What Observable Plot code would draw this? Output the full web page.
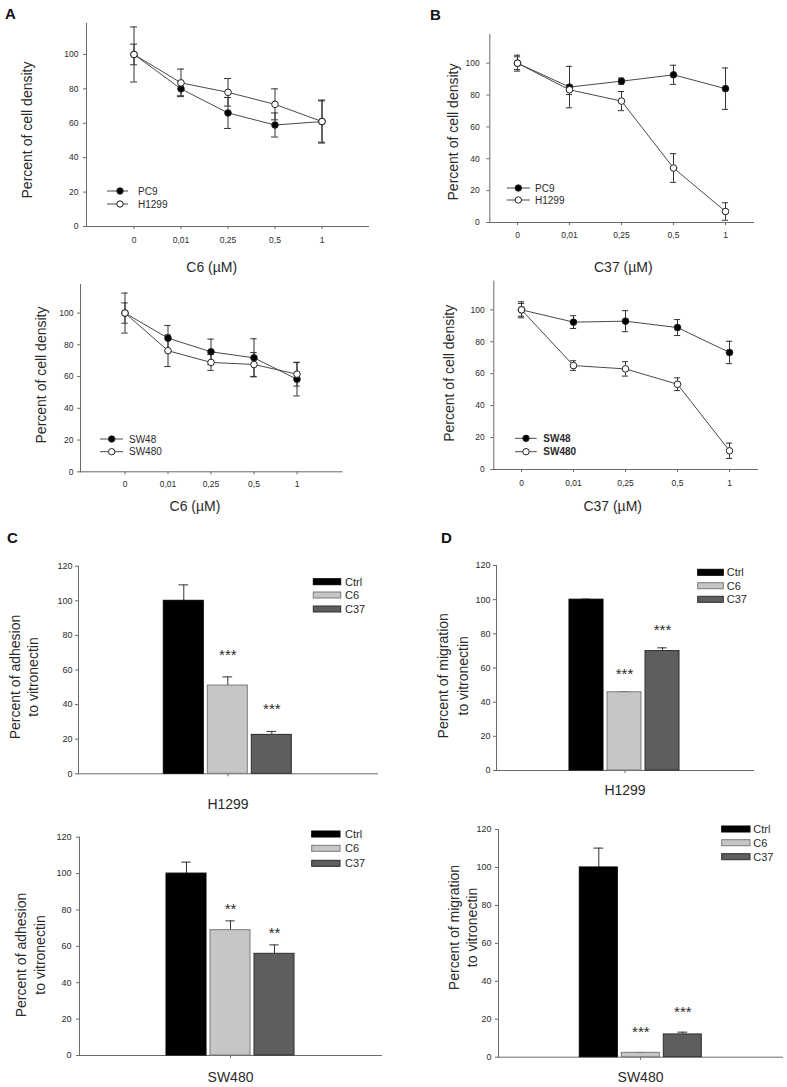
<!DOCTYPE html>
<html><head><meta charset="utf-8">
<script src="https://cdn.jsdelivr.net/npm/d3@7"></script>
<script src="https://cdn.jsdelivr.net/npm/@observablehq/plot@0.6"></script>
<style>
body{margin:0;background:#fff;}
#fig{position:relative;width:787px;height:1087px;overflow:hidden;font-family:"Liberation Sans",Arial,sans-serif;}
#fig .panel{position:absolute;}
#fig svg{overflow:visible;}
</style></head><body><div id="fig"></div>
<script>
// ---------- data: dose-response (percent of cell density, mean and error) ----------
const doses = ["0", "0,01", "0,25", "0,5", "1"];
const pc9C6 = [100, 80, 66, 59, 61];
const pc9C6Err = [6, 4, 9, 7, 12.5];
const h1299C6 = [100, 83.5, 78, 71, 61];
const h1299C6Err = [16, 8, 8, 9, 12];
const pc9C37 = [100, 85, 88.7, 92.7, 84];
const pc9C37Err = [5, 13, 2, 6, 13];
const h1299C37 = [100, 83.3, 76.2, 34.2, 6.9];
const h1299C37Err = [4, 3, 6, 9, 5.5];
const sw48C6 = [100, 84.2, 75.6, 71.8, 58.3];
const sw48C6Err = [6.4, 8, 8, 12, 10.5];
const sw480C6 = [100, 76.3, 68.9, 67.6, 61.5];
const sw480C6Err = [12.6, 10, 5, 7.5, 7.5];
const sw48C37 = [100, 92.3, 92.9, 88.9, 73.3];
const sw48C37Err = [5, 4, 6.6, 5, 7];
const sw480C37 = [100, 65.1, 63, 53.4, 11.7];
const sw480C37Err = [4, 3, 4.5, 4, 4.8];
const lineTicks = [0, 20, 40, 60, 80, 100];

// ---------- data: adhesion / migration bars ----------
const treatments = ["Ctrl", "C6", "C37"];
const adhH1299 = [100, 51, 22.5];
const adhH1299Err = [9.2, 5, 2];
const adhH1299Sig = ["", "***", "***"];
const migH1299 = [100, 45.8, 69.9];
const migH1299Err = [0.3, 0.3, 1.9];
const migH1299Sig = ["", "***", "***"];
const adhSW480 = [100, 68.9, 55.9];
const adhSW480Err = [6.3, 5.1, 4.9];
const adhSW480Sig = ["", "**", "**"];
const migSW480 = [100, 2.3, 12];
const migSW480Err = [10.2, 0.2, 1.2];
const migSW480Sig = ["", "***", "***"];
const barTicks = [0, 20, 40, 60, 80, 100, 120];

// ---------- styles ----------
const FONT = '"Liberation Sans", Arial, sans-serif';
const axisColor = "#6a6a6a";
const textColor = "#2a2a2a";
const lineColor = "#4a4a4a";
const errColor = "#333";
const barFill = ["#000000", "#c6c6c6", "#5e5e5e"];
const barStroke = ["#000000", "#7a7a7a", "#2c2c2c"];

const fig = document.getElementById("fig");
const overlay = d3.create("svg").attr("width", 787).attr("height", 1087)
  .style("position", "absolute").style("left", "0px").style("top", "0px")
  .style("pointer-events", "none").style("font-family", FONT);

function place(svg, box) {
  const div = document.createElement("div");
  div.className = "panel";
  div.style.left = box[0] + "px"; div.style.top = box[1] + "px";
  div.style.width = box[2] + "px"; div.style.height = box[3] + "px";
  div.appendChild(svg);
  fig.appendChild(div);
}

function margins(c) {
  const [left, top, width, height] = c.box;
  return {width, height, marginLeft: c.L - left, marginRight: left + width - c.R,
          marginTop: c.T - top, marginBottom: top + height - c.B};
}

// ---------- line panels ----------
const linePanels = [
  {box: [0, 0, 390, 270], L: 86, R: 368, T: 23, B: 226, po: 0.5, ytp: 5, xtp: 7,
   series: [{name: "PC9", v: pc9C6, e: pc9C6Err, filled: true}, {name: "H1299", v: h1299C6, e: h1299C6Err, filled: false}],
   ylabel: [26.5, 130], xlabel: [211.7, 266.7, "C6 (µM)"],
   legend: {x0: 107, len: 21, mk: 13, tx: 31, ys: [191, 204], bold: false}},
  {box: [390, 0, 397, 270], L: 489.3, R: 753.3, T: 34, B: 222, po: 0, ytp: 7, xtp: 6,
   series: [{name: "PC9", v: pc9C37, e: pc9C37Err, filled: true}, {name: "H1299", v: h1299C37, e: h1299C37Err, filled: false}],
   ylabel: [452.5, 132], xlabel: [623.3, 266.7, "C37 (µM)"],
   legend: {x0: 506.7, len: 23.3, mk: 11.6, tx: 28.3, ys: [188, 200], bold: false}},
  {box: [0, 270, 390, 265], L: 80, R: 341.7, T: 284, B: 471.3, po: 0.5, ytp: 4, xtp: 6,
   series: [{name: "SW48", v: sw48C6, e: sw48C6Err, filled: true}, {name: "SW480", v: sw480C6, e: sw480C6Err, filled: false}],
   ylabel: [40.7, 375], xlabel: [195, 505.7, "C6 (µM)"],
   legend: {x0: 100, len: 23, mk: 11.7, tx: 29, ys: [439, 451.7], bold: false}},
  {box: [390, 270, 397, 265], L: 493.3, R: 757, T: 280.6, B: 469, po: 0, ytp: 6, xtp: 7,
   series: [{name: "SW48", v: sw48C37, e: sw48C37Err, filled: true}, {name: "SW480", v: sw480C37, e: sw480C37Err, filled: false}],
   ylabel: [449.2, 373.3], xlabel: [612.7, 505.7, "C37 (µM)"],
   legend: {x0: 515, len: 21.7, mk: 11, tx: 28.3, ys: [438.3, 451.7], bold: true}}
];

for (const c of linePanels) {
  const rows = [];
  c.series.forEach(s => s.v.forEach((v, i) => rows.push({
    dose: doses[i], v, lo: v - s.e[i], hi: v + s.e[i], series: s.name, filled: s.filled})));
  const bw = (c.R - c.L) / (doses.length + 2 * c.po);
  const capInset = (bw - 7) / 2;
  const svg = Plot.plot({
    ...margins(c),
    style: {fontFamily: FONT, fontSize: "8.5px", color: textColor, background: "transparent", overflow: "visible"},
    x: {type: "band", domain: doses, paddingInner: 0, paddingOuter: c.po, align: 0.5},
    y: {domain: [0, 118]},
    marks: [
      Plot.frame({anchor: "left", stroke: axisColor}),
      Plot.frame({anchor: "bottom", stroke: axisColor}),
      Plot.axisY({ticks: lineTicks, tickSize: 3, tickPadding: c.ytp, label: null, stroke: axisColor}),
      Plot.axisX({tickSize: 3, tickPadding: c.xtp, label: null, stroke: axisColor}),
      Plot.ruleX(rows, {x: "dose", y1: "lo", y2: "hi", stroke: errColor, strokeWidth: 1}),
      Plot.tickY(rows, {x: "dose", y: "lo", insetLeft: capInset, insetRight: capInset, stroke: errColor}),
      Plot.tickY(rows, {x: "dose", y: "hi", insetLeft: capInset, insetRight: capInset, stroke: errColor}),
      Plot.line(rows, {x: "dose", y: "v", z: "series", stroke: lineColor, strokeWidth: 1}),
      Plot.dot(rows, {x: "dose", y: "v", r: 3.3, fill: d => d.filled ? "#000" : "#fff", stroke: "#222", strokeWidth: 1})
    ]
  });
  place(svg, c.box);

  // axis titles
  overlay.append("text").attr("transform", `translate(${c.ylabel[0]},${c.ylabel[1]}) rotate(-90)`)
    .attr("text-anchor", "middle").attr("dominant-baseline", "central")
    .attr("font-size", 14).attr("fill", textColor).text("Percent of cell density");
  overlay.append("text").attr("x", c.xlabel[0]).attr("y", c.xlabel[1])
    .attr("text-anchor", "middle").attr("dominant-baseline", "central")
    .attr("font-size", 14).attr("fill", textColor).text(c.xlabel[2]);

  // legend
  const lg = c.legend;
  c.series.forEach((s, i) => {
    const y = lg.ys[i];
    overlay.append("line").attr("x1", lg.x0).attr("x2", lg.x0 + lg.len).attr("y1", y).attr("y2", y)
      .attr("stroke", lineColor);
    overlay.append("circle").attr("cx", lg.x0 + lg.mk).attr("cy", y).attr("r", 3.2)
      .attr("fill", s.filled ? "#000" : "#fff").attr("stroke", "#222");
    overlay.append("text").attr("x", lg.x0 + lg.tx).attr("y", y).attr("dominant-baseline", "central")
      .attr("font-size", 10).attr("font-weight", lg.bold ? "bold" : "normal").attr("fill", textColor).text(s.name);
  });
}

// ---------- bar panels ----------
const barPanels = [
  {box: [0, 540, 390, 275], L: 77.7, R: 376.7, T: 565.7, B: 773.3, cell: "H1299",
   v: adhH1299, e: adhH1299Err, sig: adhH1299Sig, ytp: 3, fxtp: 22, starDy: -22,
   ylabel: {lines: ["Percent of adhesion", "to vitronectin"], xs: [14.5, 32.5], y: 677},
   legend: {bx: 313.3, bw: 27.4, ys: [581.7, 595, 609], tx: 345}},
  {box: [390, 540, 397, 275], L: 496, R: 753.3, T: 565, B: 770, cell: "H1299",
   v: migH1299, e: migH1299Err, sig: migH1299Sig, ytp: 3, fxtp: 12, starDy: -18,
   ylabel: {lines: ["Percent of migration", "to vitronectin"], xs: [443, 462.7], y: 675.8},
   legend: {bx: 697.7, bw: 25.6, ys: [572.3, 585.7, 599.3], tx: 726.7}},
  {box: [0, 815, 390, 272], L: 79, R: 381.7, T: 836.7, B: 1055, cell: "SW480",
   v: adhSW480, e: adhSW480Err, sig: adhSW480Sig, ytp: 5, fxtp: 13.7, starDy: -12,
   ylabel: {lines: ["Percent of adhesion", "to vitronectin"], xs: [21, 40], y: 955},
   legend: {bx: 311.7, bw: 28.3, ys: [834, 848.3, 863.3], tx: 345}},
  {box: [390, 815, 397, 272], L: 497.7, R: 781.7, T: 829, B: 1056.7, cell: "SW480",
   v: migSW480, e: migSW480Err, sig: migSW480Sig, ytp: 4, fxtp: 12, starDy: -20,
   ylabel: {lines: ["Percent of migration", "to vitronectin"], xs: [454, 471.7], y: 927.5},
   legend: {bx: 721.7, bw: 28.3, ys: [829, 842.7, 856.7], tx: 753.3}}
];

const PI = 0.095, PO = 1.91;
for (const c of barPanels) {
  const rows = treatments.map((t, i) => ({cell: c.cell, t, v: c.v[i], hi: c.v[i] + c.e[i], sig: c.sig[i], k: i}));
  const step = (c.R - c.L) / (treatments.length - PI + 2 * PO);
  const bw = step * (1 - PI);
  const capInset = (bw - 10) / 2;
  const svg = Plot.plot({
    ...margins(c),
    style: {fontFamily: FONT, fontSize: "9px", color: textColor, background: "transparent", overflow: "visible"},
    fx: {domain: [c.cell], padding: 0},
    x: {type: "band", domain: treatments, paddingInner: PI, paddingOuter: PO, align: 0.5, axis: null},
    y: {domain: [0, 120]},
    marks: [
      Plot.frame({anchor: "left", stroke: axisColor}),
      Plot.frame({anchor: "bottom", stroke: axisColor}),
      Plot.axisY({ticks: barTicks, tickSize: 3, tickPadding: c.ytp, label: null, stroke: axisColor}),
      Plot.axisFx({anchor: "bottom", tickSize: 3, tickPadding: c.fxtp, fontSize: 14, label: null, stroke: axisColor}),
      Plot.ruleX(rows, {fx: "cell", x: "t", y1: "v", y2: "hi", stroke: errColor}),
      Plot.tickY(rows, {fx: "cell", x: "t", y: "hi", insetLeft: capInset, insetRight: capInset, stroke: errColor}),
      Plot.barY(rows, {fx: "cell", x: "t", y: "v", fill: d => barFill[d.k], stroke: d => barStroke[d.k], strokeWidth: 1}),
      Plot.text(rows, {fx: "cell", x: "t", y: "hi", text: "sig", dy: c.starDy, fontSize: 15, fill: textColor})
    ]
  });
  place(svg, c.box);

  c.ylabel.lines.forEach((ln, i) => {
    overlay.append("text").attr("transform", `translate(${c.ylabel.xs[i]},${c.ylabel.y}) rotate(-90)`)
      .attr("text-anchor", "middle").attr("dominant-baseline", "central")
      .attr("font-size", 14).attr("fill", textColor).text(ln);
  });
  treatments.forEach((t, i) => {
    const y = c.legend.ys[i];
    overlay.append("rect").attr("x", c.legend.bx).attr("y", y - 3).attr("width", c.legend.bw).attr("height", 6)
      .attr("fill", barFill[i]).attr("stroke", barStroke[i]);
    overlay.append("text").attr("x", c.legend.tx).attr("y", y).attr("dominant-baseline", "central")
      .attr("font-size", 11).attr("fill", textColor).text(t);
  });
}

// ---------- panel letters ----------
const letters = [["A", 5, 19], ["B", 430, 20], ["C", 7, 543], ["D", 441, 543]];
for (const [t, x, y] of letters) {
  overlay.append("text").attr("x", x).attr("y", y).attr("font-size", 15).attr("font-weight", "bold")
    .attr("fill", "#111").text(t);
}

fig.appendChild(overlay.node());
</script></body></html>
